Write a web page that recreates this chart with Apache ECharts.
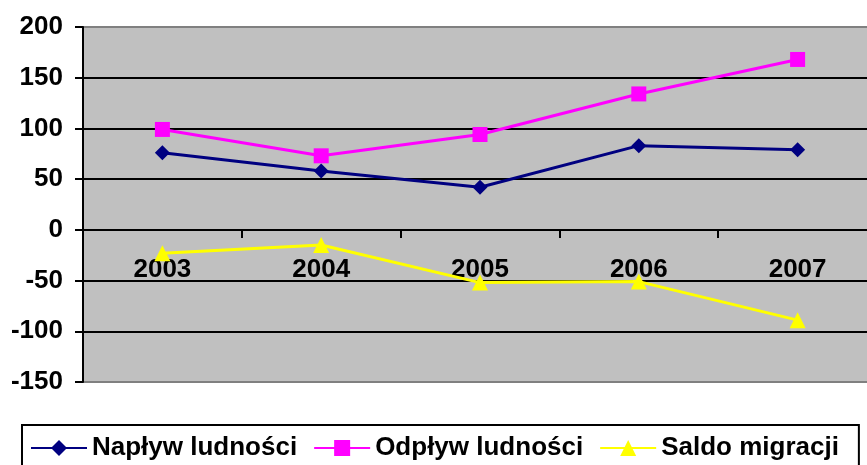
<!DOCTYPE html>
<html>
<head>
<meta charset="utf-8">
<script src="https://cdn.jsdelivr.net/npm/echarts@6.0.0/dist/echarts.min.js"></script>
<style>
  html, body { margin: 0; padding: 0; background: #fff; }
  #chart { width: 867px; height: 465px; }
</style>
</head>
<body>
<div id="chart"></div>
<script>
const years = ['2003', '2004', '2005', '2006', '2007'];
const naplyw = [76, 58, 42, 83, 79];
const odplyw = [99, 73, 94, 134, 168];
const saldo = [-23, -15, -52, -51, -89];

const font = "'Liberation Sans', Arial, sans-serif";

const chart = echarts.init(document.getElementById('chart'));
chart.setOption({
  animation: false,
  textStyle: { fontFamily: font },
  grid: {
    left: 83, top: 27, width: 794, height: 355,
    containLabel: false,
    outerBoundsMode: 'none',
    show: true,
    backgroundColor: '#c0c0c0',
    borderColor: '#808080',
    borderWidth: 2
  },
  legend: {
    left: 22, top: 425,
    padding: [10, 20, 12, 8],
    borderColor: '#000',
    borderWidth: 2,
    itemWidth: 56,
    itemHeight: 20,
    itemGap: 16,
    textStyle: { fontFamily: font, fontWeight: 'bold', fontSize: 26, color: '#000' },
    data: ['Napływ ludności', 'Odpływ ludności', 'Saldo migracji']
  },
  xAxis: {
    type: 'category',
    data: years,
    boundaryGap: true,
    position: 'bottom',
    // axis sits on the zero line: 150 units up from the bottom of the plot
    offset: -152,
    axisLine: { onZero: false, lineStyle: { color: '#000', width: 2 } },
    axisTick: { show: true, length: 8, lineStyle: { color: '#000', width: 2 } },
    axisLabel: {
      interval: 0, margin: 27,
      fontFamily: font, fontWeight: 'bold', fontSize: 26, color: '#000'
    },
    splitLine: { show: false }
  },
  yAxis: {
    type: 'value',
    min: -150, max: 200, interval: 50,
    axisLine: { show: true, lineStyle: { color: '#000', width: 2 } },
    axisTick: { show: true, length: 8, lineStyle: { color: '#000', width: 2 } },
    axisLabel: {
      margin: 20,
      fontFamily: font, fontWeight: 'bold', fontSize: 26, color: '#000'
    },
    splitLine: {
      show: true, showMinLine: false, showMaxLine: false,
      lineStyle: { color: '#000', width: 2 }
    }
  },
  series: [
    {
      name: 'Napływ ludności', type: 'line', data: naplyw,
      symbol: 'diamond', symbolSize: 15,
      itemStyle: { color: '#000080' },
      lineStyle: { color: '#000080', width: 3 }
    },
    {
      name: 'Odpływ ludności', type: 'line', data: odplyw,
      symbol: 'rect', symbolSize: 15,
      itemStyle: { color: '#ff00ff' },
      lineStyle: { color: '#ff00ff', width: 3 }
    },
    {
      name: 'Saldo migracji', type: 'line', data: saldo,
      symbol: 'triangle', symbolSize: 16,
      itemStyle: { color: '#ffff00' },
      lineStyle: { color: '#ffff00', width: 3 }
    }
  ]
});
</script>
</body>
</html>
